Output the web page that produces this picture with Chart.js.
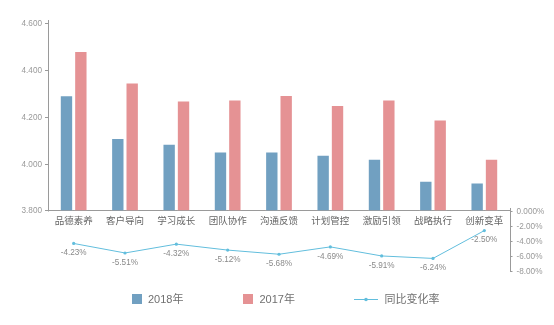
<!DOCTYPE html>
<html>
<head>
<meta charset="utf-8">
<script src="https://cdn.jsdelivr.net/npm/chart.js@4/dist/chart.umd.min.js"></script>
<style>
  html, body { margin: 0; padding: 0; background: #fff; }
  #wrap { width: 554px; height: 325px; }
</style>
</head>
<body>
<div id="wrap"><canvas id="c" width="554" height="325"></canvas></div>
<script>
// Competency scores by dimension, 2018 vs 2017, plus year-over-year change (%)
const categories = ['品德素养', '客户导向', '学习成长', '团队协作', '沟通反馈', '计划管控', '激励引领', '战略执行', '创新变革'];
const score2018 = [4.295, 4.112, 4.088, 4.055, 4.055, 4.041, 4.024, 3.929, 3.922];
const score2017 = [4.484, 4.350, 4.273, 4.277, 4.296, 4.253, 4.277, 4.191, 4.024];
const changeRate = [-4.23, -5.51, -4.32, -5.12, -5.68, -4.69, -5.91, -6.24, -2.50];
const scoreTicks = [3.8, 4.0, 4.2, 4.4, 4.6];
const rateTicks = [0, -2, -4, -6, -8];
const rateTickLabels = ['0.000%', '-2.00%', '-4.00%', '-6.00%', '-8.00%'];
const seriesNames = ['2018年', '2017年', '同比变化率'];

const BLUE = '#71a0c1';
const PINK = '#e59294';
const CYAN = '#62bedd';
const AXIS = '#9a9a9a';
const NUM_FONT = "'Liberation Sans', 'Noto Sans CJK SC', sans-serif";
const CJK_FONT = "'Liberation Sans', 'Noto Sans CJK SC', sans-serif";

// Partial axis lines, point labels and the legend
const decorations = {
  id: 'decorations',
  afterDatasetsDraw(chart) {
    const { ctx, chartArea, scales } = chart;
    const y = scales.y, y2 = scales.y2;
    ctx.save();
    ctx.strokeStyle = AXIS;
    ctx.lineWidth = 1;
    // score axis: from top down to the bar baseline
    ctx.beginPath();
    ctx.moveTo(Math.round(chartArea.left) + 0.5, chartArea.top);
    ctx.lineTo(Math.round(chartArea.left) + 0.5, Math.round(y.getPixelForValue(scoreTicks[0])) + 0.5);
    ctx.stroke();
    // rate axis: only across the tick range
    ctx.beginPath();
    ctx.moveTo(Math.round(chartArea.right) + 0.5, y2.getPixelForValue(rateTicks[0]) - 4);
    ctx.lineTo(Math.round(chartArea.right) + 0.5, y2.getPixelForValue(rateTicks[rateTicks.length - 1]) + 0.5);
    ctx.stroke();

    // value labels under the rate points
    const meta = chart.getDatasetMeta(2);
    ctx.fillStyle = '#8a8a8a';
    ctx.font = '8.2px ' + NUM_FONT;
    ctx.textAlign = 'center';
    ctx.textBaseline = 'middle';
    meta.data.forEach((pt, i) => {
      ctx.fillText(changeRate[i].toFixed(2) + '%', pt.x, pt.y + 9.5);
    });

    // legend
    const ly = 299.5;
    ctx.font = '11px ' + CJK_FONT;
    ctx.textAlign = 'left';
    ctx.fillStyle = BLUE;
    ctx.fillRect(132, 294, 10, 10);
    ctx.fillStyle = PINK;
    ctx.fillRect(243, 294, 10, 10);
    ctx.strokeStyle = CYAN;
    ctx.beginPath();
    ctx.moveTo(354, ly);
    ctx.lineTo(378, ly);
    ctx.stroke();
    ctx.fillStyle = CYAN;
    ctx.beginPath();
    ctx.arc(366, ly, 1.8, 0, Math.PI * 2);
    ctx.fill();
    ctx.fillStyle = '#707070';
    ctx.fillText(seriesNames[0], 148, ly);
    ctx.fillText(seriesNames[1], 259.5, ly);
    ctx.fillText(seriesNames[2], 384.5, ly);
    ctx.restore();
  }
};

new Chart(document.getElementById('c'), {
  data: {
    labels: categories,
    datasets: [
      {
        type: 'bar', label: seriesNames[0], data: score2018, yAxisID: 'y', base: scoreTicks[0],
        backgroundColor: BLUE, borderColor: 'rgba(255,255,255,0.35)', borderWidth: 1,
        categoryPercentage: 0.56, barPercentage: 0.93, order: 2
      },
      {
        type: 'bar', label: seriesNames[1], data: score2017, yAxisID: 'y', base: scoreTicks[0],
        backgroundColor: PINK, borderColor: 'rgba(255,255,255,0.35)', borderWidth: 1,
        categoryPercentage: 0.56, barPercentage: 0.93, order: 2
      },
      {
        type: 'line', label: seriesNames[2], data: changeRate, yAxisID: 'y2',
        borderColor: CYAN, borderWidth: 1, pointRadius: 1.6, pointBackgroundColor: CYAN,
        pointBorderWidth: 0, tension: 0, fill: false, order: 1
      }
    ]
  },
  options: {
    responsive: false,
    animation: false,
    layout: { padding: { top: 20, bottom: 52, left: 0, right: 0 } },
    plugins: { legend: { display: false }, tooltip: { enabled: false } },
    scales: {
      x: {
        type: 'category',
        position: { y: scoreTicks[0] },
        offset: true,
        grid: { display: true, drawOnChartArea: false, drawTicks: false },
        border: { display: true, color: AXIS, width: 1 },
        ticks: { color: '#666', font: { family: CJK_FONT, size: 9.5 }, padding: 5, maxRotation: 0, autoSkip: false }
      },
      y: {
        type: 'linear',
        position: 'left',
        min: 3.53476,
        max: 4.61711,
        afterFit: s => { s.width = 48; },
        afterBuildTicks: s => { s.ticks = scoreTicks.map(v => ({ value: v })); },
        grid: { drawOnChartArea: false, drawTicks: true, tickLength: 3, color: AXIS },
        border: { display: false },
        ticks: { color: '#999', font: { family: NUM_FONT, size: 8.2 }, padding: 3, callback: v => Number(v).toFixed(3) }
      },
      y2: {
        type: 'linear',
        position: 'right',
        min: -8.2017,
        max: 25.815,
        afterFit: s => { s.width = 44; },
        afterBuildTicks: s => { s.ticks = rateTicks.map(v => ({ value: v })); },
        grid: { drawOnChartArea: false, drawTicks: true, tickLength: 2.5, color: AXIS },
        border: { display: false },
        ticks: { color: '#999', font: { family: NUM_FONT, size: 8.2 }, padding: 4, callback: (v, i) => rateTickLabels[i] }
      }
    }
  },
  plugins: [decorations]
});
</script>
</body>
</html>
